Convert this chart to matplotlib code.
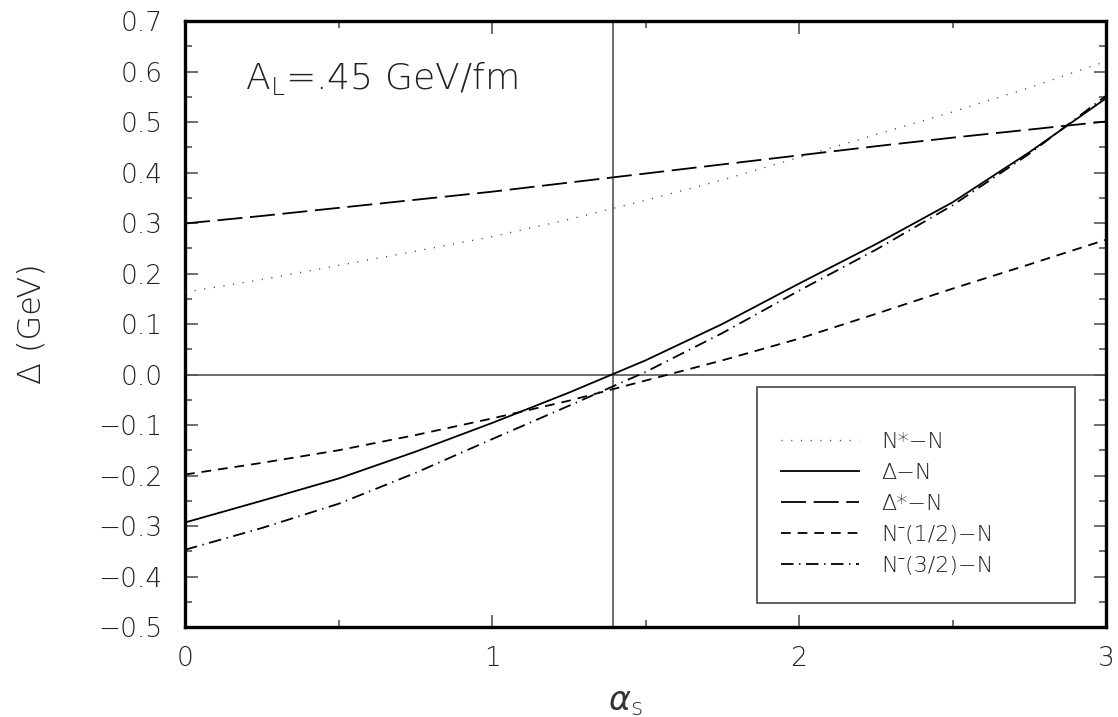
import numpy as np
import matplotlib
matplotlib.use("Agg")
import matplotlib.pyplot as plt
from matplotlib.ticker import MultipleLocator, FuncFormatter
from matplotlib.patches import Rectangle

# ---- data ----
alpha_s = [0.0, 0.25, 0.5, 0.75, 1.0, 1.25, 1.5, 1.75, 2.0, 2.25, 2.5, 2.75, 3.0]
nstar_n = [0.163, 0.188, 0.216, 0.244, 0.273, 0.307, 0.345, 0.385, 0.430, 0.475, 0.520, 0.568, 0.620]
delta_n = [-0.293, -0.250, -0.206, -0.153, -0.096, -0.036, 0.028, 0.100, 0.180, 0.258, 0.341, 0.440, 0.547]
deltastar_n = [0.299, 0.314, 0.330, 0.346, 0.362, 0.380, 0.398, 0.416, 0.434, 0.452, 0.469, 0.485, 0.501]
nminus_half_n = [-0.198, -0.175, -0.150, -0.120, -0.087, -0.052, -0.012, 0.028, 0.071, 0.120, 0.170, 0.218, 0.267]
nminus_3half_n = [-0.347, -0.304, -0.256, -0.195, -0.128, -0.062, 0.005, 0.082, 0.166, 0.247, 0.335, 0.437, 0.552]
labels = ["N*\u2212N", "\u0394\u2212N", "\u0394*\u2212N", "N\u207b(1/2)\u2212N", "N\u207b(3/2)\u2212N"]
alpha_ref = 1.393
annotation = r"A$_\mathregular{L}$=.45 GeV/fm"

plt.rcParams['font.family'] = ['DejaVu Sans', 'Noto Sans']
plt.rcParams['font.weight'] = 'light'
plt.rcParams['axes.labelweight'] = 'light'
plt.rcParams['lines.scale_dashes'] = False
plt.rcParams['mathtext.fontset'] = 'dejavusans'

fig = plt.figure(figsize=(11.18, 7.17), dpi=100)
ax = fig.add_axes([0.1655, 0.1255, 0.9893 - 0.1655, 0.9707 - 0.1255])

ax.set_xlim(0, 3)
ax.set_ylim(-0.5, 0.7)

grey = '#555555'
ax.axhline(0.0, color=grey, lw=1.2, zorder=1)
ax.axvline(alpha_ref, color=grey, lw=1.2, zorder=1)

lw = 1.3
styles = [
    dict(color='#444444', lw=1.0, ls=(0, (0.8, 6.2))),
    dict(color='black', lw=lw, ls='-'),
    dict(color='black', lw=lw, ls=(0, (18, 5.5))),
    dict(color='black', lw=lw, ls=(0, (7, 5))),
    dict(color='black', lw=lw, ls=(0, (9, 4, 1, 4))),
]
series = [nstar_n, delta_n, deltastar_n, nminus_half_n, nminus_3half_n]
handles = []
for ys, st, lab in zip(series, styles, labels):
    h, = ax.plot(alpha_s, ys, label=lab, zorder=3, **st)
    handles.append(h)

# legend box
ax.add_patch(Rectangle((0.621, 0.040), 0.966 - 0.621, 0.396 - 0.040,
                       transform=ax.transAxes, facecolor='white',
                       edgecolor=grey, lw=1.3, zorder=4))
leg = ax.legend(handles=handles, loc='center left', bbox_to_anchor=(0.647, 0.203),
                frameon=False, prop=dict(family=['DejaVu Sans', 'Noto Sans'], size=16, weight='light'),
                handlelength=3.5, handletextpad=1.0,
                labelspacing=0.5, borderpad=0, borderaxespad=0)
leg.set_zorder(5)
for t in leg.get_texts():
    t.set_color('#222222')

ax.text(0.065, 0.905, annotation, transform=ax.transAxes, fontsize=26,
        color='#222222', va='center', ha='left')

# ticks
ax.xaxis.set_major_locator(MultipleLocator(1))
ax.xaxis.set_minor_locator(MultipleLocator(0.5))
ax.yaxis.set_major_locator(MultipleLocator(0.1))
ax.yaxis.set_minor_locator(MultipleLocator(0.05))
ax.xaxis.set_major_formatter(FuncFormatter(lambda v, p: f"{v:.0f}"))
ax.yaxis.set_major_formatter(FuncFormatter(
    lambda v, p: f"{(0.0 if abs(v) < 1e-9 else v):.1f}".replace('-', '\u2212')))
ax.tick_params(which='both', direction='in', top=True, right=True,
               color=grey, width=1.2, labelsize=19, labelcolor='#222222')
ax.tick_params(which='major', length=9)
ax.tick_params(which='minor', length=5)
ax.tick_params(axis='x', pad=14)
ax.tick_params(axis='y', pad=16)
for s in ax.spines.values():
    s.set_linewidth(2.4)
    s.set_color('black')

ax.set_xlabel(r"$\alpha_\mathregular{s}$", fontsize=24, color='#333333')
ax.xaxis.set_label_coords(0.478, -0.095)
ax.set_ylabel("\u0394 (GeV)", fontsize=23, color='#222222')
ax.yaxis.set_label_coords(-0.15, 0.5)

fig.savefig("out.png", dpi=100)
